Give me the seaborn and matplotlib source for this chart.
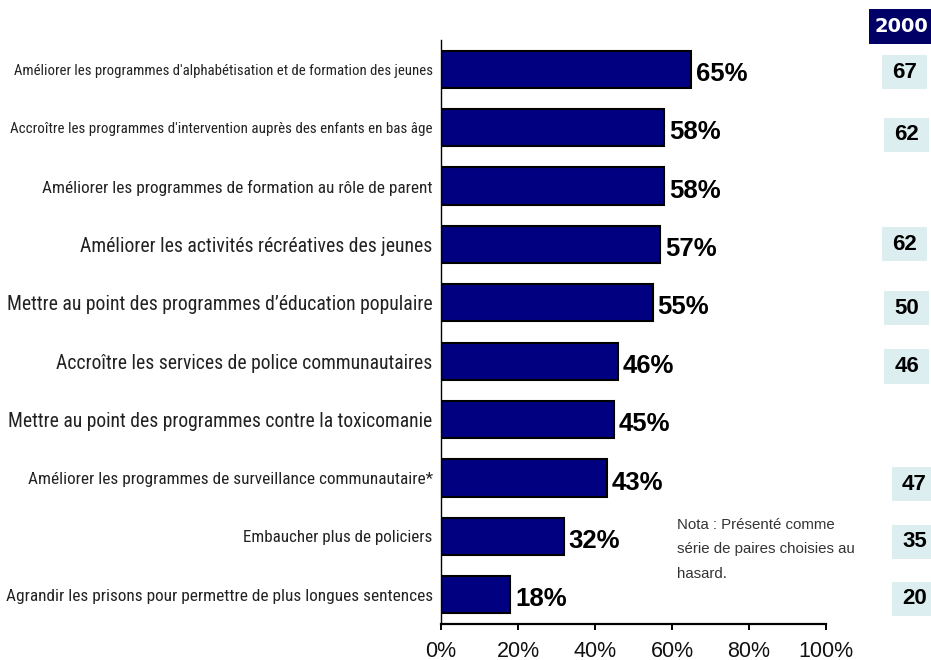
import matplotlib
matplotlib.use("Agg")
import matplotlib.pyplot as plt
import seaborn as sns
import pandas as pd
from matplotlib import font_manager
from matplotlib.patches import Rectangle

# Survey items, current support (%) and the 2000 comparison figures
actions = [
    "Améliorer les programmes d'alphabétisation et de formation des jeunes",
    "Accroître les programmes d'intervention auprès des enfants en bas âge",
    "Améliorer les programmes de formation au rôle de parent",
    "Améliorer les activités récréatives des jeunes",
    "Mettre au point des programmes d\u2019éducation populaire",
    "Accroître les services de police communautaires",
    "Mettre au point des programmes contre la toxicomanie",
    "Améliorer les programmes de surveillance communautaire*",
    "Embaucher plus de policiers",
    "Agrandir les prisons pour permettre de plus longues sentences",
]
support = [65, 58, 58, 57, 55, 46, 45, 43, 32, 18]
support_2000 = [67, 62, None, 62, 50, 46, None, 47, 35, 20]
x_ticks = [0, 20, 40, 60, 80, 100]
year_header = "2000"
note = "Nota : Présenté comme\nsérie de paires choisies au\nhasard."

sns.set_theme(style="white")
installed = {f.name for f in font_manager.fontManager.ttflist}
narrow = next((n for n in ("Liberation Sans Narrow", "Arial Narrow", "Roboto Condensed")
               if n in installed), "Liberation Sans")
plt.rcParams["font.family"] = ["Liberation Sans", "DejaVu Sans"]

W, H = 931, 660
fig = plt.figure(figsize=(W / 100, H / 100), dpi=100)
ax = fig.add_axes([441 / W, 36 / H, 385 / W, 584 / H])

df = pd.DataFrame({"action": actions, "pct": support})
sns.barplot(data=df, x="pct", y="action", orient="h", color="#000080",
            saturation=1, edgecolor="black", linewidth=1.5, width=0.64, ax=ax)

ax.set_xlim(0, 100)
ax.set_ylim(len(actions) - 0.5, -0.5)
ax.set_xlabel("")
ax.set_ylabel("")
for side in ("top", "right"):
    ax.spines[side].set_visible(False)
ax.spines["left"].set_color("black")
ax.spines["left"].set_linewidth(1.0)
ax.spines["bottom"].set_color("black")
ax.spines["bottom"].set_linewidth(1.6)

ax.set_xticks(x_ticks)
ax.set_xticklabels([f"{v}%" for v in x_ticks], fontsize=15.5, color="#111111")
ax.tick_params(axis="x", direction="out", length=4, width=1.4, color="black", pad=8, bottom=True)
ax.tick_params(axis="y", length=0, pad=6)

# Value labels at bar ends
for i, v in enumerate(support):
    ax.text(v + 1.2, i + 0.08, f"{v}%", fontsize=18.5, fontweight="bold",
            color="black", va="center", ha="left")

# 2000 comparison boxes on the right
box_x = [120.5, 121, 121, 120.5, 121, 121, 121, 123, 123, 123]
box_dy = [0.05, 0.12, 0.0, 0.0, 0.09, 0.09, 0.0, 0.11, 0.09, 0.07]
bw, bh = 45 / 3.85, 34 / 58.2
for i, v in enumerate(support_2000):
    if v is None:
        continue
    cx, cy = box_x[i], i + box_dy[i]
    ax.add_patch(Rectangle((cx - bw / 2, cy - bh / 2), bw, bh, facecolor="#DDEEF0",
                           edgecolor="none", clip_on=False, zorder=2))
    ax.text(cx, cy, str(v), fontsize=16, fontweight="bold", color="black",
            ha="center", va="center", clip_on=False, zorder=3)

# Header box for the comparison column
fig.patches.append(Rectangle((869 / W, 1 - 44 / H), 62 / W, 35 / H, transform=fig.transFigure,
                             facecolor="#000066", edgecolor="none"))
fig.text(901 / W, 1 - 27 / H, year_header, fontsize=14, fontweight="bold", color="white",
         ha="center", va="center", family="DejaVu Sans")

# Note
fig.text(677 / W, 1 - 518 / H, note, fontsize=10.8, color="#333333", ha="left", va="top",
         linespacing=1.95)

# Category labels, each fitted to its printed width
label_widths = [413, 418, 388, 348, 425, 373, 423, 402, 188, 423]
ax.set_yticks(range(len(actions)))
ax.set_yticklabels(actions, family=[narrow, "DejaVu Sans"], fontsize=10, color="#222222")
fig.canvas.draw()
renderer = fig.canvas.get_renderer()
for lbl, target in zip(ax.get_yticklabels(), label_widths):
    w = lbl.get_window_extent(renderer).width
    lbl.set_fontsize(lbl.get_fontsize() * target / w)

fig.savefig("out.png", dpi=100, facecolor="white")
